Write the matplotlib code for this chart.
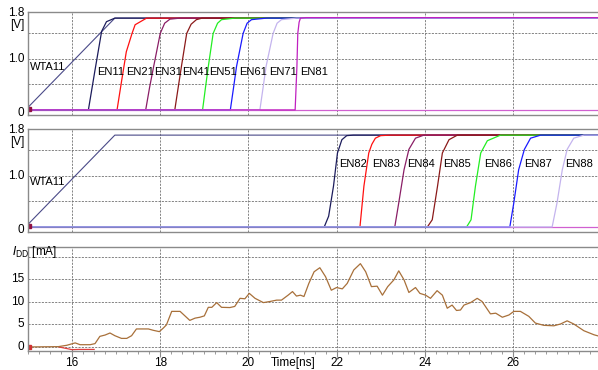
import matplotlib
matplotlib.use("Agg")
import matplotlib.pyplot as plt
from matplotlib.ticker import MultipleLocator

plt.rcParams['font.family'] = ['Liberation Sans', 'DejaVu Sans']

# ramp signal shown in both voltage panels
wta_t = [15.0, 16.97, 28.0]
wta_v = [0.05, 1.8, 1.8]

# panel 1: EN11 .. EN81
top_names = ["EN11", "EN21", "EN31", "EN41", "EN51", "EN61", "EN71", "EN81"]
top_t = [
    [15.0, 16.37, 16.52, 16.67, 16.78, 16.97, 28.0],
    [15.0, 17.02, 17.12, 17.23, 17.36, 17.43, 17.69, 28.0],
    [15.0, 17.67, 17.76, 17.85, 18.0, 18.1, 18.22, 18.45, 28.0],
    [15.0, 18.33, 18.4, 18.48, 18.6, 18.7, 18.82, 18.95, 28.0],
    [15.0, 18.96, 19.02, 19.09, 19.2, 19.3, 19.39, 19.69, 28.0],
    [15.0, 19.59, 19.66, 19.73, 19.88, 19.97, 20.07, 20.41, 28.0],
    [15.0, 20.26, 20.33, 20.4, 20.56, 20.65, 20.75, 21.09, 28.0],
    [15.0, 21.06, 21.1, 21.12, 21.15, 21.18, 21.31, 28.0],
]
top_v = [
    [0, 0, 0.78, 1.54, 1.73, 1.8, 1.8],
    [0, 0, 0.55, 1.14, 1.5, 1.67, 1.8, 1.8],
    [0, 0, 0.45, 0.85, 1.5, 1.7, 1.78, 1.8, 1.8],
    [0, 0, 0.4, 0.85, 1.5, 1.68, 1.77, 1.8, 1.8],
    [0, 0, 0.4, 0.85, 1.5, 1.7, 1.77, 1.8, 1.8],
    [0, 0, 0.42, 0.85, 1.5, 1.7, 1.77, 1.8, 1.8],
    [0, 0, 0.42, 0.85, 1.5, 1.7, 1.77, 1.8, 1.8],
    [0, 0, 0.85, 1.5, 1.72, 1.8, 1.81, 1.81],
]

# panel 2: EN82 .. EN88
mid_names = ["EN82", "EN83", "EN84", "EN85", "EN86", "EN87", "EN88"]
mid_t = [
    [15.0, 21.72, 21.82, 21.93, 22.02, 22.12, 22.23, 22.38, 28.0],
    [15.0, 22.53, 22.62, 22.73, 22.8, 22.88, 23.0, 23.22, 28.0],
    [15.0, 23.32, 23.41, 23.53, 23.64, 23.79, 23.98, 28.0],
    [15.0, 24.06, 24.17, 24.29, 24.4, 24.55, 24.74, 28.0],
    [15.0, 24.95, 25.05, 25.15, 25.27, 25.42, 25.72, 28.0],
    [15.0, 25.93, 26.02, 26.13, 26.26, 26.4, 26.63, 28.0],
    [15.0, 26.89, 27.0, 27.12, 27.23, 27.38, 27.61, 28.0],
]
mid_v = [
    [0, 0, 0.21, 0.8, 1.45, 1.71, 1.79, 1.8, 1.8],
    [0, 0, 0.8, 1.45, 1.62, 1.74, 1.79, 1.8, 1.8],
    [0, 0, 0.47, 1.12, 1.52, 1.74, 1.8, 1.8],
    [0, 0, 0.14, 0.8, 1.45, 1.71, 1.8, 1.8],
    [0, 0, 0.14, 0.8, 1.45, 1.69, 1.8, 1.8],
    [0, 0, 0.47, 1.12, 1.52, 1.74, 1.8, 1.8],
    [0, 0, 0.47, 1.12, 1.52, 1.74, 1.8, 1.8],
]

# panel 3: supply current
idd_t = [15.0, 15.69, 15.88, 16.07, 16.18, 16.41, 16.52, 16.63, 16.75, 16.86, 16.97,
         17.12, 17.24, 17.35, 17.46, 17.62, 17.73, 17.84, 17.98, 18.07, 18.14, 18.26,
         18.37, 18.45, 18.56, 18.67, 18.79, 18.9, 19.0, 19.09, 19.17, 19.28, 19.39,
         19.58, 19.69, 19.81, 19.92, 20.02, 20.15, 20.34, 20.49, 20.64, 20.75, 20.9,
         21.0, 21.09, 21.18, 21.26, 21.37, 21.49, 21.62, 21.75, 21.88, 22.0, 22.13,
         22.24, 22.39, 22.54, 22.66, 22.79, 22.92, 23.04, 23.16, 23.3, 23.41, 23.53,
         23.64, 23.79, 23.89, 24.02, 24.13, 24.28, 24.4, 24.51, 24.62, 24.72, 24.81,
         24.89, 25.04, 25.19, 25.3, 25.49, 25.61, 25.76, 25.91, 26.02, 26.17, 26.36,
         26.51, 26.7, 26.93, 27.08, 27.23, 27.38, 27.61, 27.84, 27.95]
idd_ma = [0, 0.07, 0.37, 0.9, 0.5, 0.5, 0.74, 2.35, 2.65, 3.1, 2.5,
          1.9, 1.9, 2.5, 4.0, 4.0, 4.0, 3.7, 3.4, 4.2, 4.9, 7.9,
          7.9, 7.9, 6.9, 5.9, 6.4, 6.6, 6.9, 8.8, 8.8, 9.85, 8.8,
          8.75, 9.0, 10.8, 10.7, 11.9, 10.8, 9.85, 10.1, 10.4, 10.4, 11.5,
          12.3, 11.3, 11.5, 11.2, 14.1, 16.7, 17.6, 15.6, 12.6, 13.2, 12.9,
          14.1, 17.1, 18.5, 16.7, 13.4, 13.5, 11.5, 13.4, 14.9, 16.9, 14.9,
          12.1, 13.2, 11.9, 11.5, 10.8, 12.5, 11.5, 8.6, 9.3, 8.1, 8.2,
          9.3, 9.85, 10.8, 10.1, 7.35, 7.5, 6.6, 7.1, 7.9, 7.9, 6.8,
          5.3, 4.8, 4.7, 5.1, 5.8, 5.1, 3.6, 2.7, 2.4]
# small red trace just under zero
ired_t = [15.7, 15.85, 16.0, 16.15, 16.5]
ired_ma = [0, -0.3, -0.6, -0.55, -0.55]

x_ticks = [16, 18, 20, 22, 24, 26]
v_ticks = [0, 1.0, 1.8]
v_tick_labels = ["0", "1.0", "1.8"]
i_ticks = [0, 5, 10, 15]

top_colors = ["#1c1c5c", "#ff1010", "#8a1e66", "#8b1a1a", "#22ee22", "#1a1aff", "#c4b4ee", "#c020c0"]
mid_colors = top_colors[:7]
wta_color = "#4a4a88"
grid_kw = dict(color="#707070", lw=0.6, ls=(0, (2.5, 1.5)))
frame_color = "#8a8a8a"

W, H = 598, 370
fig = plt.figure(figsize=(W / 100, H / 100), dpi=100)


def axes_px(left, top, bottom):
    return fig.add_axes([left / W, 1 - bottom / H, 1 - left / W, (bottom - top) / H])


ax1 = axes_px(28, 12, 115)
ax2 = axes_px(28, 129, 232)
ax3 = axes_px(28, 247, 351)

for ax in (ax1, ax2, ax3):
    ax.set_xlim(15.0, 27.93)
    for s in ("left", "top", "bottom"):
        ax.spines[s].set_color(frame_color)
        ax.spines[s].set_linewidth(1.0)
    ax.spines["right"].set_visible(False)
    for x in x_ticks:
        ax.axvline(x, zorder=0, **grid_kw)
    ax.set_yticks([])
    ax.set_xticks([])

for ax, names, ts, vs, colors in ((ax1, top_names, top_t, top_v, top_colors),
                                  (ax2, mid_names, mid_t, mid_v, mid_colors)):
    ax.set_ylim(-0.1, 1.92)
    for g in (0.5, 1.0, 1.5, 0.0):
        ax.axhline(g, zorder=0, **grid_kw)
    ax.plot(wta_t, wta_v, color=wta_color, lw=0.8)
    for t, v, c in zip(ts, vs, colors):
        ax.plot(t, v, color=c, lw=0.9)
    ax.plot([15.0, 28.0], [0, 0], color="#d060d0", lw=0.9, zorder=1)
    ax.plot(15.02, 0.02, "s", color="#901040", ms=2.5)
    tr = ax.get_yaxis_transform()
    for v, lab in zip(v_ticks, v_tick_labels):
        dy = {0: -0.06, 1.0: 0.0, 1.8: 0.1}[v]
        ax.text(-0.006, v + dy, lab, transform=tr, ha="right", va="center", fontsize=8.5)
    ax.text(-0.006, 1.66, "[V]", transform=tr, ha="right", va="center", fontsize=8.5)

# signal labels
ax1.text(15.05, 0.84, "WTA11", fontsize=8, va="center")
top_label_x = [16.56, 17.23, 17.85, 18.5, 19.12, 19.79, 20.47, 21.17]
for x, n in zip(top_label_x, top_names):
    ax1.text(x, 0.74, n, fontsize=8, va="center")
ax2.text(15.05, 0.88, "WTA11", fontsize=8, va="center")
mid_label_x = [22.05, 22.81, 23.6, 24.42, 25.34, 26.25, 27.19]
for x, n in zip(mid_label_x, mid_names):
    ax2.text(x, 1.24, n, fontsize=8, va="center")

# current panel
ax3.set_ylim(-0.9, 22.2)
for g in (0, 5, 10, 15, 20):
    ax3.axhline(g, zorder=0, **grid_kw)
ax3.plot(ired_t, ired_ma, color="#e04040", lw=0.9)
ax3.plot(idd_t, idd_ma, color="#a8703a", lw=0.9)
ax3.plot(15.02, 0.0, "s", color="#d03030", ms=2.5)
tr = ax3.get_yaxis_transform()
for v in i_ticks:
    ax3.text(-0.006, v, str(v), transform=tr, ha="right", va="center", fontsize=8.5)
fig.text(12 / W, 1 - 252 / H, r"$I_{\rm DD}$ [mA]", fontsize=8.5, va="center")

ax3.set_xticks(x_ticks)
ax3.set_xticklabels([str(x) for x in x_ticks], fontsize=8.5)
ax3.xaxis.set_minor_locator(MultipleLocator(0.25))
ax3.tick_params(axis="x", which="major", length=4, color=frame_color, pad=0.5)
ax3.tick_params(axis="x", which="minor", length=2, color=frame_color)
ax3.text(21.02, -0.12, "Time[ns]", transform=ax3.get_xaxis_transform(),
         ha="center", va="center", fontsize=8.5)

fig.savefig("out.png", dpi=100)
